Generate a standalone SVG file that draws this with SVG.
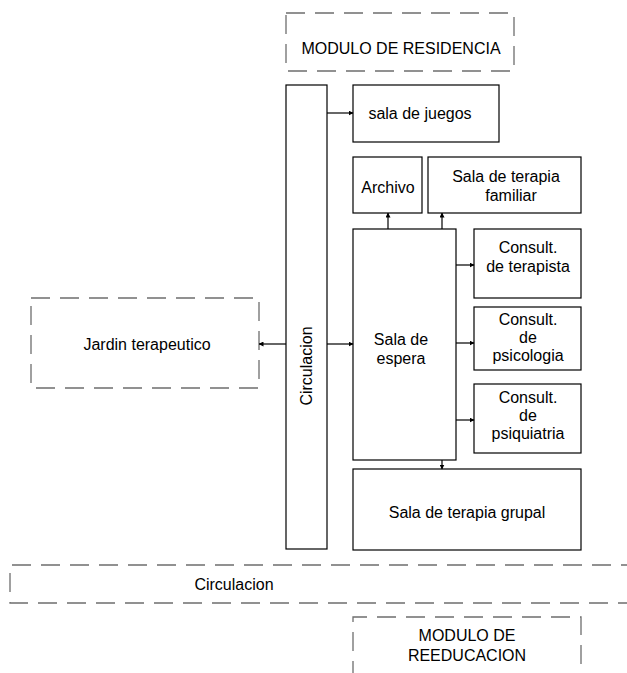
<svg xmlns="http://www.w3.org/2000/svg" width="627" height="673" viewBox="0 0 627 673">
  <style>
    .box { fill: #ffffff; stroke: #000000; stroke-width: 1.2; }
    .zone { fill: none; stroke: #6e6e6e; stroke-width: 1.3; stroke-dasharray: 19 10; }
    .lbl { font-family: "Liberation Sans", Arial, sans-serif; font-size: 16px; fill: #000000; text-anchor: middle; }
    .link { stroke: #000000; stroke-width: 1.2; fill: none; marker-end: url(#arrow); }
  </style>
  <defs>
    <marker id="arrow" viewBox="0 0 10 10" refX="9" refY="5" markerWidth="5" markerHeight="5" markerUnits="userSpaceOnUse" orient="auto">
      <path d="M0,0 L10,5 L0,10 Z" fill="#000000"/>
    </marker>
  </defs>
  <rect width="627" height="673" fill="#ffffff"/>

  <g id="modulo-residencia">
    <rect class="zone" x="286" y="13" width="228" height="58"/>
    <text class="lbl" x="401" y="54">MODULO DE RESIDENCIA</text>
  </g>

  <g id="circulacion-vertical">
    <rect class="box" x="286" y="85" width="41" height="464"/>
    <text class="lbl" transform="translate(312,366) rotate(-90)">Circulacion</text>
  </g>

  <g id="sala-juegos">
    <rect class="box" x="353" y="85" width="146" height="57"/>
    <text class="lbl" x="420" y="119">sala de juegos</text>
  </g>

  <g id="archivo">
    <rect class="box" x="353" y="157" width="69" height="56"/>
    <text class="lbl" x="388" y="193">Archivo</text>
  </g>

  <g id="terapia-familiar">
    <rect class="box" x="428" y="157" width="153" height="56"/>
    <text class="lbl" x="506" y="182">Sala de terapia</text>
    <text class="lbl" x="511" y="201">familiar</text>
  </g>

  <g id="sala-espera">
    <rect class="box" x="353" y="229" width="103" height="231"/>
    <text class="lbl" x="401" y="345">Sala de</text>
    <text class="lbl" x="401" y="364">espera</text>
  </g>

  <g id="consult-terapista">
    <rect class="box" x="474" y="229" width="107" height="69"/>
    <text class="lbl" x="528" y="253">Consult.</text>
    <text class="lbl" x="528" y="272">de terapista</text>
  </g>

  <g id="consult-psicologia">
    <rect class="box" x="474" y="307" width="107" height="63"/>
    <text class="lbl" x="528" y="325">Consult.</text>
    <text class="lbl" x="528" y="343">de</text>
    <text class="lbl" x="528" y="361">psicologia</text>
  </g>

  <g id="consult-psiquiatria">
    <rect class="box" x="474" y="384" width="107" height="69"/>
    <text class="lbl" x="528" y="403">Consult.</text>
    <text class="lbl" x="528" y="421">de</text>
    <text class="lbl" x="528" y="439">psiquiatria</text>
  </g>

  <g id="terapia-grupal">
    <rect class="box" x="353" y="469" width="228" height="81"/>
    <text class="lbl" x="467" y="518">Sala de terapia grupal</text>
  </g>

  <g id="jardin-terapeutico">
    <rect class="zone" x="31" y="298" width="228" height="90"/>
    <text class="lbl" x="147" y="350">Jardin terapeutico</text>
  </g>

  <g id="circulacion-horizontal">
    <path class="zone" d="M640,565 H10 V603 H640"/>
    <text class="lbl" x="234" y="590">Circulacion</text>
  </g>

  <g id="modulo-reeducacion">
    <path class="zone" d="M353,680 V617 H581 V680"/>
    <text class="lbl" x="467" y="641">MODULO DE</text>
    <text class="lbl" x="467" y="661">REEDUCACION</text>
  </g>

  <g id="connectors">
    <line class="link" x1="327" y1="113" x2="353" y2="113"/>
    <line class="link" x1="286" y1="344" x2="259" y2="344"/>
    <line class="link" x1="327" y1="344" x2="353" y2="344"/>
    <line class="link" x1="388" y1="229" x2="388" y2="213"/>
    <line class="link" x1="442" y1="229" x2="442" y2="213"/>
    <line class="link" x1="456" y1="265" x2="474" y2="265"/>
    <line class="link" x1="456" y1="343" x2="474" y2="343"/>
    <line class="link" x1="456" y1="420" x2="474" y2="420"/>
    <line class="link" x1="442" y1="460" x2="442" y2="469"/>
  </g>
</svg>
